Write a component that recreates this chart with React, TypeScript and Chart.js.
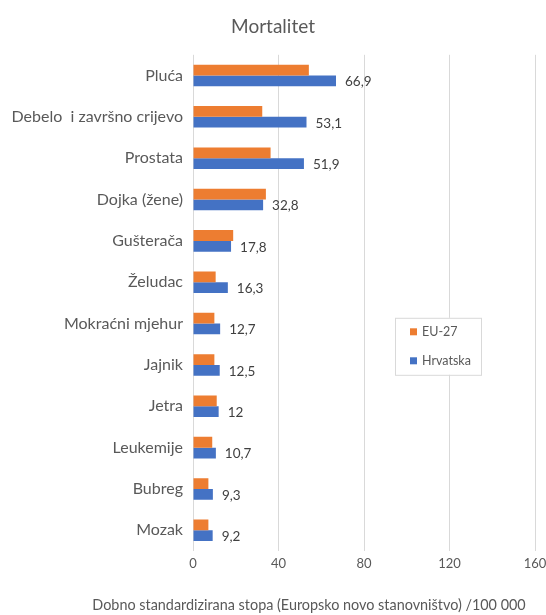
import React, { useEffect, useRef } from "react";
import { Chart, registerables } from "chart.js";

Chart.register(...registerables);

const categories = [
  "Pluća",
  "Debelo  i završno crijevo",
  "Prostata",
  "Dojka (žene)",
  "Gušterača",
  "Želudac",
  "Mokraćni mjehur",
  "Jajnik",
  "Jetra",
  "Leukemije",
  "Bubreg",
  "Mozak",
];
const eu27 = [54.2, 32.4, 36.3, 34.1, 18.8, 10.6, 10.0, 10.0, 11.1, 9.0, 7.2, 7.2];
const hrvatska = [66.9, 53.1, 51.9, 32.8, 17.8, 16.3, 12.7, 12.5, 12, 10.7, 9.3, 9.2];
const xTicks = [0, 40, 80, 120, 160];
const seriesNames = ["EU-27", "Hrvatska"];
const seriesColors = ["#ED7D31", "#4472C4"];
const chartTitle = "Mortalitet";
const xAxisTitle = "Dobno standardizirana stopa (Europsko novo stanovništvo) /100 000";

const FONT = "Lato, 'Open Sans', sans-serif";
const TEXT = "#595959";

const fmt = (v: number) => String(v).replace(".", ",");

const extrasPlugin = {
  id: "extras",
  afterDatasetsDraw(chart: any) {
    const ctx = chart.ctx;
    const meta = chart.getDatasetMeta(1);
    ctx.save();
    ctx.font = `13.5px ${FONT}`;
    ctx.fillStyle = "#404040";
    ctx.textAlign = "left";
    ctx.textBaseline = "middle";
    meta.data.forEach((el: any, i: number) => {
      ctx.fillText(fmt(hrvatska[i]), el.x + 9, el.y + 1);
    });
    ctx.restore();
  },
  afterDraw(chart: any) {
    const ctx = chart.ctx;
    const ca = chart.chartArea;
    ctx.save();
    // legend box
    const bx = ca.right - 140;
    const by = ca.top + 263;
    const bw = 86;
    const bh = 57;
    ctx.fillStyle = "#FFFFFF";
    ctx.fillRect(bx, by, bw, bh);
    ctx.strokeStyle = "#D9D9D9";
    ctx.lineWidth = 1;
    ctx.strokeRect(bx + 0.5, by + 0.5, bw, bh);
    ctx.font = `12.5px ${FONT}`;
    ctx.textAlign = "left";
    ctx.textBaseline = "middle";
    seriesNames.forEach((name, i) => {
      const cy = by + 14 + i * 29;
      ctx.fillStyle = seriesColors[i];
      ctx.fillRect(bx + 15, cy - 3.5, 7, 7);
      ctx.fillStyle = TEXT;
      ctx.fillText(name, bx + 27, cy);
    });
    // x axis title
    ctx.font = `14.4px ${FONT}`;
    ctx.fillStyle = TEXT;
    ctx.textAlign = "center";
    ctx.textBaseline = "middle";
    ctx.fillText(xAxisTitle, 309, chart.height - 10);
    ctx.restore();
  },
};

export default function App() {
  const ref = useRef<HTMLCanvasElement>(null);
  useEffect(() => {
    if (!ref.current) return;
    const chart = new Chart(ref.current, {
      type: "bar",
      data: {
        labels: categories,
        datasets: [
          {
            label: seriesNames[0],
            data: eu27,
            backgroundColor: seriesColors[0],
            categoryPercentage: 0.52,
            barPercentage: 1,
          },
          {
            label: seriesNames[1],
            data: hrvatska,
            backgroundColor: seriesColors[1],
            categoryPercentage: 0.52,
            barPercentage: 1,
          },
        ],
      },
      options: {
        indexAxis: "y",
        animation: false,
        responsive: false,
        layout: { padding: { left: 0, right: 0, top: 0, bottom: 0 } },
        plugins: {
          legend: { display: false },
          tooltip: { enabled: false },
          title: {
            display: true,
            text: chartTitle,
            color: TEXT,
            font: { family: FONT, size: 19, weight: "normal" },
            padding: { top: 15, bottom: 17 },
          },
        },
        scales: {
          x: {
            min: 0,
            max: 160,
            afterBuildTicks: (scale: any) => {
              scale.ticks = xTicks.map((v) => ({ value: v }));
            },
            afterFit: (scale: any) => {
              scale.height = 64;
              scale.paddingRight = 11;
              scale.paddingLeft = 0;
            },
            ticks: {
              color: TEXT,
              font: { family: FONT, size: 13 },
              padding: 5,
            },
            grid: { color: "#D9D9D9", drawTicks: false },
            border: { display: false },
          },
          y: {
            afterFit: (scale: any) => {
              scale.width = 193;
            },
            ticks: {
              color: TEXT,
              font: { family: FONT, size: 16 },
              padding: 10,
            },
            grid: { display: false, drawTicks: false },
            border: { display: false },
          },
        },
      },
      plugins: [extrasPlugin],
    } as any);
    return () => chart.destroy();
  }, []);
  return (
    <div style={{ position: "fixed", left: 0, top: 0, width: 546, height: 615, background: "#fff" }}>
      <canvas ref={ref} width={546} height={615} />
    </div>
  );
}
